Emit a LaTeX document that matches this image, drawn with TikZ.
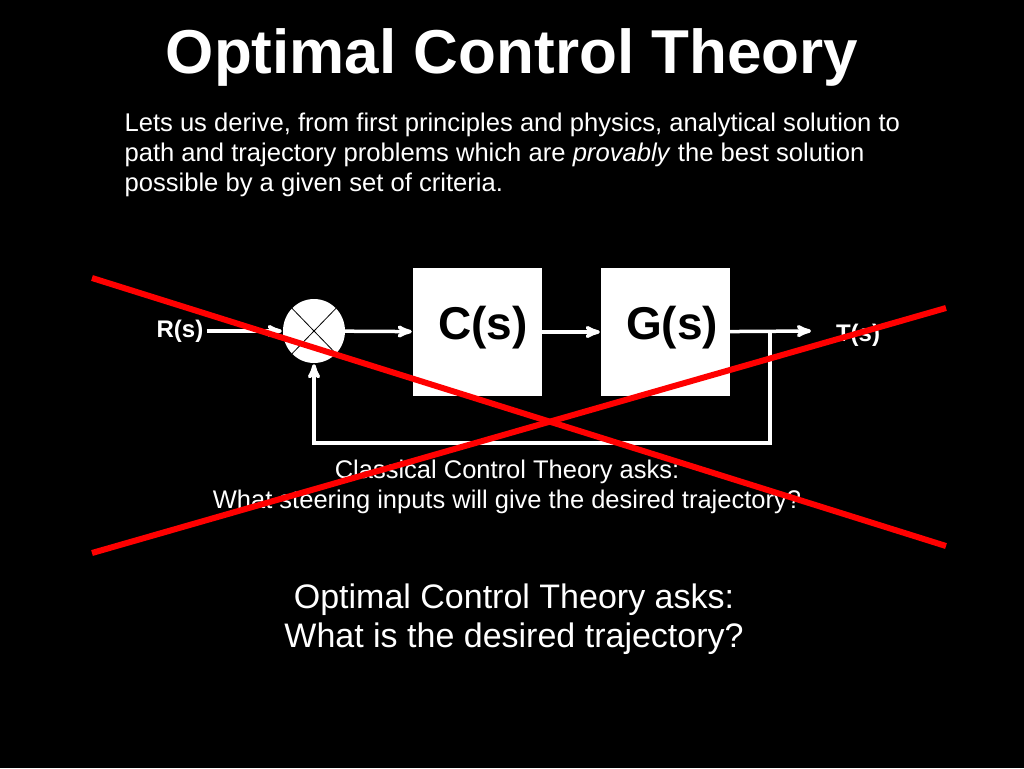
\documentclass[tikz,border=0pt]{standalone}
\usepackage{fontspec}
\setmainfont{Liberation Sans}
\usetikzlibrary{arrows,positioning,shapes.geometric}

\begin{document}
\begin{tikzpicture}[
    x=1pt, y=-1pt,
    block/.style={rectangle, draw=none, fill=white, minimum width=129pt, minimum height=128pt},
    blocktext/.style={text=black, font=\fontsize{46}{50}\selectfont\bfseries},
    sum/.style={ellipse, fill=white, minimum width=62pt, minimum height=64pt, inner sep=0pt},
    signal/.style={text=white, font=\fontsize{24}{28}\selectfont\bfseries},
    arrow/.style={white, line width=3.5pt, ->, >=stealth', shorten >=1pt},
    cross/.style={red, line width=6pt},
    caption/.style={text=white, align=center}
]
\fill[black] (0,0) rectangle (1024,768);
\useasboundingbox (0,0) rectangle (1024,768);

% Title and intro
\node[text=white, font=\fontsize{62}{68}\selectfont\bfseries] (title) at (512,57) {Optimal Control Theory};
\node[text=white, anchor=north west, align=left, font=\fontsize{25.6}{30}\selectfont] (intro) at (121,109)
    {Lets us derive, from first principles and physics, analytical solution to\\
     path and trajectory problems which are \textit{provably} the best solution\\
     possible by a given set of criteria.};

% Block diagram
\node[sum] (sum) at (314,331) {};
\draw[black, line width=0.8pt] (sum.north west) -- (sum.south east)
                                (sum.north east) -- (sum.south west);
\node[block] (ctrl) at (477.5,332) {};
\node[blocktext] (ctrllabel) at (483,328) {C(s)};
\node[block] (plant) at (665.5,332) {};
\node[blocktext] (plantlabel) at (672,328) {G(s)};
\node[signal] (input) at (180,331) {R(s)};
\node[signal] (output) at (858,335) {T(s)};
\coordinate (split) at (770,331);
\coordinate (loopright) at (770,443);
\coordinate (loopleft) at (314,443);

\draw[arrow] (input) -- (sum);
\draw[arrow] (sum) -- (ctrl);
\draw[arrow] (ctrl) -- (plant);
\draw[arrow] (plant) -- (812,331);
\draw[arrow] (split) -- (loopright) -- (loopleft) -- (sum);

\node[caption, font=\fontsize{25.5}{30}\selectfont] (classic) at (507,487)
    {Classical Control Theory asks:\\What steering inputs will give the desired trajectory?};

% Crossing out
\coordinate (xa) at (92,278);
\coordinate (xb) at (946,546);
\coordinate (xc) at (92,553);
\coordinate (xd) at (946,308);
\draw[cross] (xa) -- (xb);
\draw[cross] (xc) -- (xd);

\node[caption, font=\fontsize{34}{39}\selectfont] (optimal) at (514,619)
    {Optimal Control Theory asks:\\What is the desired trajectory?};
\end{tikzpicture}
\end{document}
